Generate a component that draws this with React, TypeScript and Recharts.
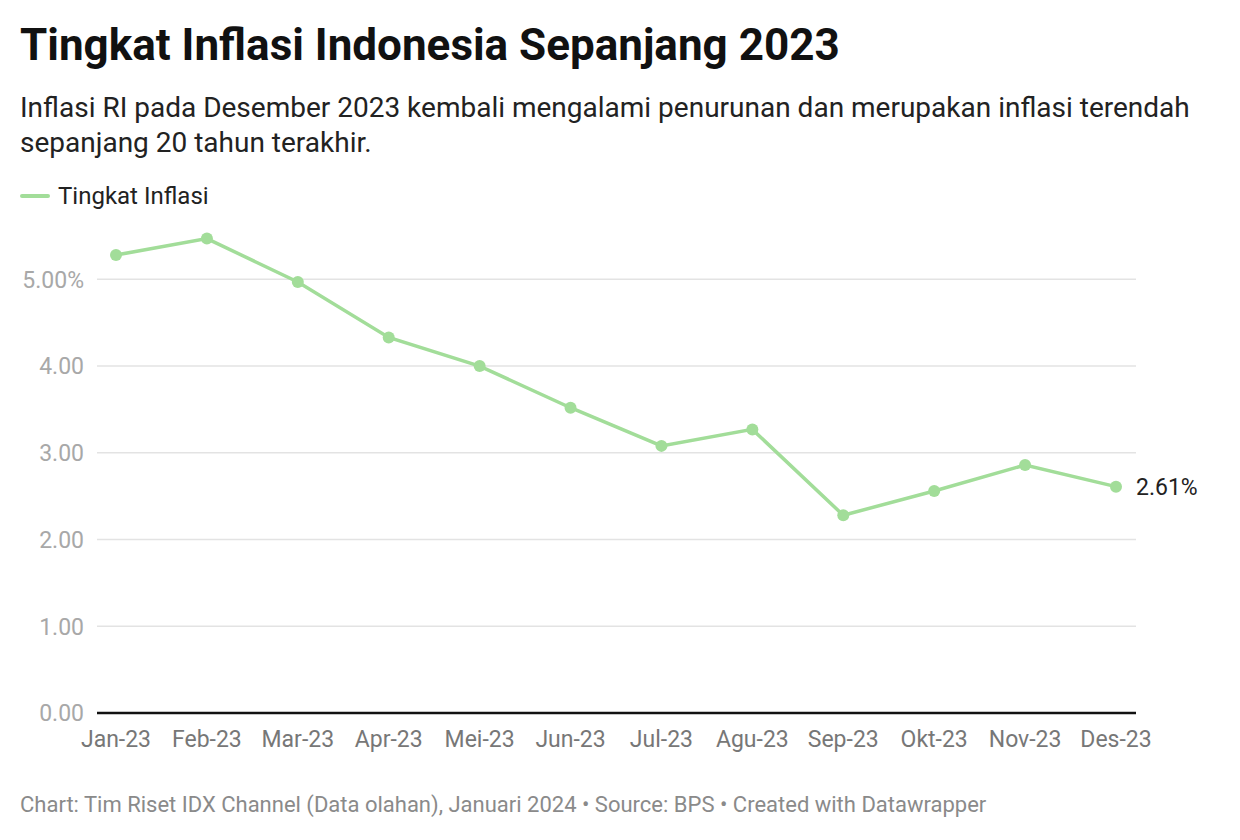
import { LineChart, Line, XAxis, YAxis, CartesianGrid, LabelList } from 'recharts'

const months = ['Jan-23', 'Feb-23', 'Mar-23', 'Apr-23', 'Mei-23', 'Jun-23', 'Jul-23', 'Agu-23', 'Sep-23', 'Okt-23', 'Nov-23', 'Des-23']
const inflation = [5.28, 5.47, 4.97, 4.33, 4.0, 3.52, 3.08, 3.27, 2.28, 2.56, 2.86, 2.61]
const yTicks = [0, 1, 2, 3, 4, 5]

const GREEN = '#a2dd99'
const FONT = 'Roboto, "Noto Sans", sans-serif'

const data = months.map((m, i) => ({ bulan: m, inflasi: inflation[i] }))

function YTick(props: any) {
  const { x, y, payload } = props
  const v = payload.value
  const label = v === 5 ? '5.00%' : v.toFixed(2)
  return (
    <text x={x} y={y} dy="0.36em" textAnchor="end" fill="#a8a8a8" fontSize={23} fontFamily={FONT}>
      {label}
    </text>
  )
}

function EndLabel(props: any) {
  const { x, y, index, value } = props
  if (index !== inflation.length - 1) return null
  return (
    <text x={x + 20} y={y} dy="0.36em" textAnchor="start" fill="#222" fontSize={23} fontFamily={FONT}>
      {value.toFixed(2)}%
    </text>
  )
}

export default function App() {
  return (
    <div style={{ position: 'absolute', left: 0, top: 0, width: 1240, height: 840, background: '#fff', fontFamily: FONT }}>
      <div style={{ position: 'absolute', left: 20, top: 20, fontSize: 44, lineHeight: 1.17, fontWeight: 700, color: '#111', whiteSpace: 'nowrap' }}>
        Tingkat Inflasi Indonesia Sepanjang 2023
      </div>
      <div style={{ position: 'absolute', left: 20, top: 90, width: 1210, fontSize: 28, lineHeight: '35px', color: '#222' }}>
        Inflasi RI pada Desember 2023 kembali mengalami penurunan dan merupakan inflasi terendah
        <br />
        sepanjang 20 tahun terakhir.
      </div>
      <div style={{ position: 'absolute', left: 20, top: 182, display: 'flex', alignItems: 'center', fontSize: 24, color: '#222' }}>
        <span style={{ display: 'inline-block', width: 30, height: 4, background: GREEN, borderRadius: 2, marginRight: 8 }} />
        Tingkat Inflasi
      </div>

      <div style={{ position: 'absolute', left: 0, top: 0 }}>
        <LineChart width={1240} height={840} data={data} margin={{ top: 236, right: 104, bottom: 97, left: 0 }}>
          <CartesianGrid horizontal vertical={false} horizontalValues={yTicks} stroke="#e3e3e3" strokeWidth={1.5} />
          <XAxis
            dataKey="bulan"
            height={30}
            padding={{ left: 19, right: 20 }}
            tickLine={false}
            axisLine={{ stroke: '#111', strokeWidth: 2.5 }}
            tickSize={0}
            tickMargin={18}
            interval={0}
            tick={{ fill: '#777', fontSize: 23, fontFamily: FONT }}
          />
          <YAxis
            width={97}
            domain={[0, 5.5]}
            ticks={yTicks}
            axisLine={false}
            tickLine={false}
            tickSize={0}
            tickMargin={13}
            tick={<YTick />}
          />
          <Line
            type="linear"
            dataKey="inflasi"
            stroke={GREEN}
            strokeWidth={3.5}
            dot={{ r: 6, fill: GREEN, stroke: GREEN, strokeWidth: 0 }}
            activeDot={false}
            isAnimationActive={false}
          >
            <LabelList dataKey="inflasi" content={<EndLabel />} />
          </Line>
        </LineChart>
      </div>

      <div style={{ position: 'absolute', left: 20, top: 792, fontSize: 22, color: '#8a8a8a', whiteSpace: 'nowrap' }}>
        Chart: Tim Riset IDX Channel (Data olahan), Januari 2024 • Source: BPS • Created with Datawrapper
      </div>
    </div>
  )
}
